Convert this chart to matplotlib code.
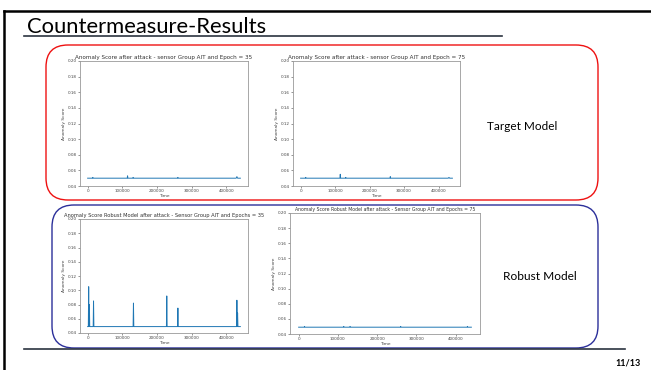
import numpy as np
import matplotlib.pyplot as plt
from matplotlib.patches import FancyBboxPatch

# --- data ---
t1 = [0, 14000, 15000, 16000, 114000, 115000, 116000, 130000, 131000, 132000,
      259000, 260000, 261000, 428000, 430000, 432000, 440000]
s1 = [0.050, 0.050, 0.051, 0.050, 0.050, 0.053, 0.050, 0.050, 0.051, 0.050,
      0.050, 0.051, 0.050, 0.050, 0.052, 0.050, 0.050]

t2 = [0, 14000, 15000, 16000, 114000, 115000, 116000, 130000, 131000, 132000,
      259000, 260000, 261000, 428000, 430000, 432000, 440000]
s2 = [0.050, 0.050, 0.051, 0.050, 0.050, 0.055, 0.050, 0.050, 0.051, 0.050,
      0.050, 0.052, 0.050, 0.050, 0.051, 0.050, 0.050]

t3 = [0, 2000, 3000, 4000, 5000, 6000, 16000, 17000, 18000, 131000, 132000, 133000,
      227000, 228000, 229000, 259000, 260000, 261000, 429000, 430000, 431000, 432000, 433000, 440000]
s3 = [0.049, 0.049, 0.105, 0.049, 0.080, 0.049, 0.049, 0.085, 0.049, 0.049, 0.082, 0.049,
      0.049, 0.092, 0.049, 0.049, 0.075, 0.049, 0.049, 0.086, 0.049, 0.068, 0.049, 0.049]

t4 = [0, 14000, 15000, 16000, 114000, 115000, 116000, 130000, 131000, 132000,
      259000, 260000, 261000, 429000, 430000, 431000, 440000]
s4 = [0.049, 0.049, 0.050, 0.049, 0.049, 0.050, 0.049, 0.049, 0.050, 0.049,
      0.049, 0.050, 0.049, 0.049, 0.050, 0.049, 0.049]

titles = ["Anomaly Score after attack - sensor Group AIT and Epoch = 35",
          "Anomaly Score after attack - sensor Group AIT and Epoch = 75",
          "Anomaly Score Robust Model after attack - Sensor Group AIT and Epochs = 35",
          "Anomaly Score Robust Model after attack - Sensor Group AIT and Epochs = 75"]

W, H = 651, 370
fig = plt.figure(figsize=(W / 100, H / 100), dpi=100)

# slide decoration layer
bg = fig.add_axes([0, 0, 1, 1])
bg.set_xlim(0, W)
bg.set_ylim(H, 0)
bg.axis('off')
bg.plot([4, W], [11, 11], color='black', lw=1.8)
bg.plot([4, 4], [11, H], color='black', lw=1.8)
bg.text(27, 33, "Countermeasure-Results", fontsize=15.8, family='Lato', va='baseline')
bg.plot([24, 502], [36, 36], color='#2b3440', lw=1.2)
bg.plot([24, 625], [349, 349], color='#2b3440', lw=1.2)
bg.text(641, 363, "11/13", fontsize=6.5, fontweight='bold', family='Lato', ha='right', va='center')
bg.add_patch(FancyBboxPatch((46, 45), 552, 155, boxstyle="round,pad=0,rounding_size=22",
                            fc='none', ec='#ee1111', lw=1))
bg.add_patch(FancyBboxPatch((52, 205), 546, 143, boxstyle="round,pad=0,rounding_size=22",
                            fc='none', ec='#2b2f9a', lw=1))
bg.text(522, 126, "Target Model", fontsize=8.5, family='Lato', ha='center', va='center')
bg.text(540, 276, "Robust Model", fontsize=8.6, family='Lato', ha='center', va='center')

# chart panels (pixel boxes: left, top, right, bottom)
boxes = [(80, 61, 248, 186), (293, 61, 460, 186), (80, 219, 248, 333), (290, 213, 480, 334)]
title_sizes = [4.1, 4.1, 3.7, 3.3]
series = [(t1, s1), (t2, s2), (t3, s3), (t4, s4)]

for (l, t, r, b), (tt, ss), title, tsz in zip(boxes, series, titles, title_sizes):
    ax = fig.add_axes([l / W, 1 - b / H, (r - l) / W, (b - t) / H])
    ax.plot(tt, ss, color='#1f77b4', lw=0.7)
    ax.set_ylim(0.04, 0.20)
    ax.set_yticks(np.arange(0.04, 0.201, 0.02))
    ax.set_xticks([0, 100000, 200000, 300000, 400000])
    ax.set_title(title, fontsize=tsz, pad=1.5, color='#333333')
    ax.set_xlabel("Time", fontsize=3.2, labelpad=0.5, color='#444444')
    ax.set_ylabel("Anomaly Score", fontsize=3.2, labelpad=1, color='#444444')
    ax.tick_params(labelsize=3, length=1.2, width=0.4, pad=1, colors='#444444')
    for sp in ax.spines.values():
        sp.set_color('#999999')
        sp.set_linewidth(0.6)

fig.savefig("out.png", dpi=100)
